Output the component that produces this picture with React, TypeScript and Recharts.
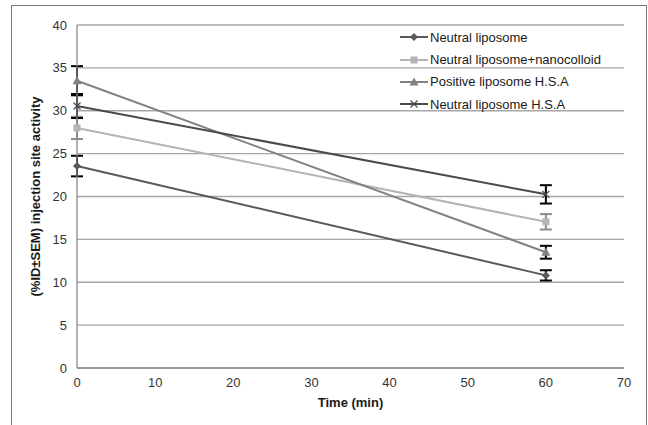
import React from 'react'
import { CartesianGrid, ErrorBar, Line, LineChart, XAxis, YAxis } from 'recharts'

const times = [0, 60]

const neutralLiposome = [23.55, 10.8]
const neutralLiposomeErr = [1.2, 0.6]
const nanocolloid = [28.0, 17.05]
const nanocolloidErr = [1.3, 0.9]
const positiveHsa = [33.5, 13.5]
const positiveHsaErr = [1.7, 0.75]
const neutralHsa = [30.55, 20.25]
const neutralHsaErr = [1.4, 1.07]

const xTicks = [0, 10, 20, 30, 40, 50, 60, 70]
const yTicks = [0, 5, 10, 15, 20, 25, 30, 35, 40]

type Shape = 'diamond' | 'square' | 'triangle' | 'x'

interface SeriesDef {
  key: string
  name: string
  color: string
  errColor: string
  shape: Shape
}

const seriesDefs: SeriesDef[] = [
  { key: 'nl', name: 'Neutral liposome', color: '#595959', errColor: '#000', shape: 'diamond' },
  { key: 'nc', name: 'Neutral liposome+nanocolloid', color: '#b4b4b4', errColor: '#8c8c8c', shape: 'square' },
  { key: 'ph', name: 'Positive liposome H.S.A', color: '#828282', errColor: '#000', shape: 'triangle' },
  { key: 'nh', name: 'Neutral liposome H.S.A', color: '#4a4a4a', errColor: '#000', shape: 'x' }
]

const chartData = times.map((t, i) => ({
  time: t,
  nl: neutralLiposome[i],
  nlErr: neutralLiposomeErr[i],
  nc: nanocolloid[i],
  ncErr: nanocolloidErr[i],
  ph: positiveHsa[i],
  phErr: positiveHsaErr[i],
  nh: neutralHsa[i],
  nhErr: neutralHsaErr[i]
}))

const FONT = 'Liberation Sans, Arial, sans-serif'

function Marker({ cx, cy, shape, color }: { cx: number; cy: number; shape: Shape; color: string }) {
  if (shape === 'diamond') {
    const r = 4
    return <polygon points={`${cx},${cy - r} ${cx + r},${cy} ${cx},${cy + r} ${cx - r},${cy}`} fill={color} />
  }
  if (shape === 'square') {
    return <rect x={cx - 3.5} y={cy - 3.5} width={7} height={7} fill={color} />
  }
  if (shape === 'triangle') {
    return <polygon points={`${cx},${cy - 4.5} ${cx + 4.5},${cy + 3.5} ${cx - 4.5},${cy + 3.5}`} fill={color} />
  }
  const r = 3.5
  return (
    <g stroke={color} strokeWidth={1.3}>
      <line x1={cx - r} y1={cy - r} x2={cx + r} y2={cy + r} />
      <line x1={cx - r} y1={cy + r} x2={cx + r} y2={cy - r} />
    </g>
  )
}

function makeDot(s: SeriesDef) {
  return (props: { cx?: number; cy?: number; index?: number }) => {
    const { cx = 0, cy = 0, index = 0 } = props
    return (
      <g key={`${s.key}-dot-${index}`}>
        <Marker cx={cx} cy={cy} shape={s.shape} color={s.color} />
      </g>
    )
  }
}

function LegendBox() {
  return (
    <div
      style={{
        position: 'absolute',
        left: 399,
        top: 26,
        fontFamily: FONT,
        fontSize: 13,
        color: '#1a1a1a',
        whiteSpace: 'nowrap'
      }}
    >
      {seriesDefs.map((s) => (
        <div key={s.key} style={{ display: 'flex', alignItems: 'center', height: 22.4 }}>
          <svg width={30} height={12} style={{ marginRight: 1 }}>
            <line x1={1} y1={6} x2={29} y2={6} stroke={s.color} strokeWidth={2} />
            <Marker cx={15} cy={6} shape={s.shape} color={s.color} />
          </svg>
          <span>{s.name}</span>
        </div>
      ))}
    </div>
  )
}

const tickStyle = { fontSize: 13, fill: '#333', fontFamily: FONT }

export default function App() {
  return (
    <div
      style={{
        position: 'fixed',
        left: 0,
        top: 0,
        width: 648,
        height: 425,
        background: '#fff',
        overflow: 'hidden',
        boxSizing: 'border-box',
        paddingLeft: 11,
        paddingTop: 5
      }}
    >
      <div style={{ width: 636, height: 430, border: '1.5px solid #7a7a7a', borderBottom: 'none', boxSizing: 'border-box' }} />
      <div style={{ position: 'absolute', left: 0, top: 0 }}>
        <LineChart width={648} height={425} data={chartData} margin={{ top: 25, right: 24, bottom: 12, left: 37 }}>
          <CartesianGrid vertical={false} stroke="#a6a6a6" strokeWidth={1.3} />
          <XAxis
            type="number"
            dataKey="time"
            domain={[0, 70]}
            ticks={xTicks}
            interval={0}
            height={45}
            tick={tickStyle}
            tickLine={false}
            tickSize={0}
            tickMargin={10}
            axisLine={{ stroke: '#8c8c8c', strokeWidth: 1.3 }}
            label={{
              value: 'Time (min)',
              position: 'insideBottom',
              offset: 6,
              style: { fontSize: 13, fontWeight: 'bold', fill: '#1a1a1a', fontFamily: FONT }
            }}
          />
          <YAxis
            type="number"
            domain={[0, 40]}
            ticks={yTicks}
            interval={0}
            width={40}
            tick={tickStyle}
            tickLine={false}
            tickSize={0}
            tickMargin={10}
            axisLine={{ stroke: '#8c8c8c', strokeWidth: 1.3 }}
            label={{
              value: '(%ID±SEM) injection site activity',
              angle: -90,
              position: 'insideLeft',
              offset: -2,
              style: { textAnchor: 'middle', fontSize: 13, fontWeight: 'bold', fill: '#1a1a1a', fontFamily: FONT }
            }}
          />
          {seriesDefs.map((s) => (
            <Line
              key={s.key}
              dataKey={s.key}
              name={s.name}
              stroke={s.color}
              strokeWidth={2}
              dot={makeDot(s)}
              activeDot={false}
              isAnimationActive={false}
            >
              <ErrorBar dataKey={`${s.key}Err`} direction="y" width={6} stroke={s.errColor} strokeWidth={2} />
            </Line>
          ))}
        </LineChart>
      </div>
      <LegendBox />
    </div>
  )
}
